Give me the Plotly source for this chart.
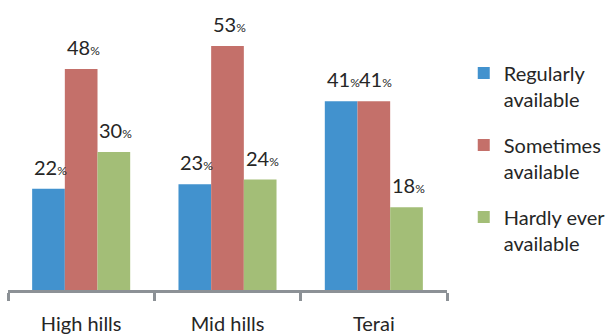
import plotly.graph_objects as go

categories = ["High hills", "Mid hills", "Terai"]
series_names = ["Regularly<br>available", "Sometimes<br>available", "Hardly ever<br>available"]
regularly = [22, 23, 41]
sometimes = [48, 53, 41]
hardly = [30, 24, 18]
colors = ["#4292CE", "#C4706A", "#A3BE77"]

FONT = "Lato"
W, H = 607, 335
ML, MR, MT, MB = 8, 160, 0, 45
BARGAP = 0.33

fig = go.Figure()
all_vals = [regularly, sometimes, hardly]
for i, (name, vals) in enumerate(zip(series_names, all_vals)):
    fig.add_trace(go.Bar(
        x=categories, y=vals, name=name, legendgroup=str(i),
        marker=dict(color=colors[i], line=dict(width=0)),
    ))

# data labels as annotations placed above each bar
plot_w = W - ML - MR
bar_px = plot_w / len(categories) * (1 - BARGAP) / len(all_vals)
for i, vals in enumerate(all_vals):
    for cat, v in zip(categories, vals):
        fig.add_annotation(
            x=cat, y=v, xref="x", yref="y",
            text=f"{v}<span style='font-size:12px'>%</span>",
            showarrow=False, yanchor="bottom", xanchor="center",
            xshift=(i - 1) * bar_px + 2, yshift=8,
            font=dict(family=FONT, size=20, color="#262626"),
        )

fig.update_layout(
    width=W, height=H,
    margin=dict(l=ML, r=MR, t=MT, b=MB),
    barmode="group", bargap=BARGAP, bargroupgap=0,
    plot_bgcolor="white", paper_bgcolor="white",
    font=dict(family=FONT, color="#262626"),
    showlegend=True,
    legend=dict(xref="container", yref="container", x=0.764, y=0.84,
                xanchor="left", yanchor="top", valign="top",
                font=dict(family=FONT, size=20, color="#262626"),
                tracegroupgap=17, itemwidth=30, traceorder="grouped",
                maxheight=300),
    xaxis=dict(showline=True, linecolor="#8C9196", linewidth=3,
               ticks="outside", tickson="boundaries", ticklen=8, tickwidth=3,
               tickcolor="#8C9196", tickfont=dict(family=FONT, size=20, color="#262626"),
               ticklabelstandoff=14),
    yaxis=dict(range=[0, 63], visible=False),
)
fig.write_html("out.html")
